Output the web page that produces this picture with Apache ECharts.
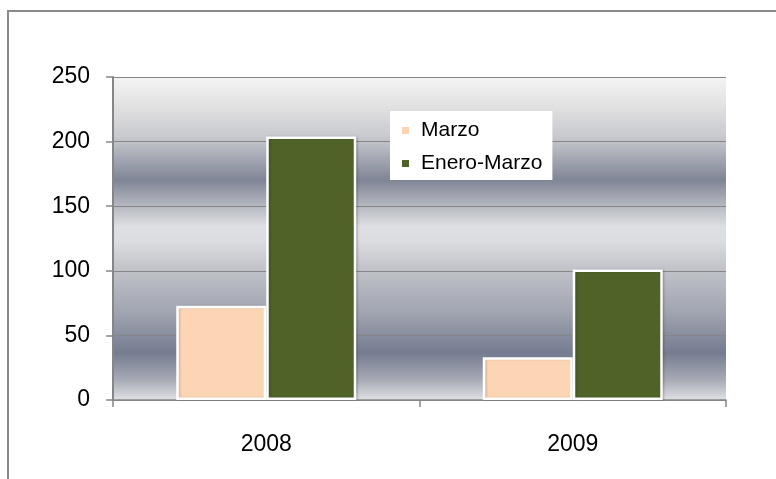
<!DOCTYPE html>
<html>
<head>
<meta charset="utf-8">
<script src="https://cdn.jsdelivr.net/npm/echarts@6/dist/echarts.min.js"></script>
<style>
html,body{margin:0;padding:0;background:#fff;}
#chart{width:776px;height:479px;}
</style>
</head>
<body>
<div id="chart"></div>
<script>
var categories = ['2008', '2009'];
var marzo = [73, 33];
var eneroMarzo = [204, 101];
var seriesNames = ['Marzo', 'Enero-Marzo'];
var yTicks = { min: 0, max: 250, interval: 50 };

var chart = echarts.init(document.getElementById('chart'));
var fontFam = '"Liberation Sans", Arial, sans-serif';
var bgGrad = new echarts.graphic.LinearGradient(0, 0, 0, 1, [
  { offset: 0, color: '#f4f4f4' },
  { offset: 0.087, color: '#e2e2e3' },
  { offset: 0.186, color: '#c8c9ce' },
  { offset: 0.272, color: '#9a9eab' },
  { offset: 0.319, color: '#7f8596' },
  { offset: 0.39, color: '#b0b3bc' },
  { offset: 0.464, color: '#dedfe2' },
  { offset: 0.505, color: '#dcdde0' },
  { offset: 0.598, color: '#c0c2c8' },
  { offset: 0.731, color: '#a0a4b0' },
  { offset: 0.854, color: '#757c90' },
  { offset: 0.938, color: '#a8abb6' },
  { offset: 1, color: '#e0e1e4' }
]);

chart.setOption({
  animation: false,
  textStyle: { fontFamily: fontFam },
  graphic: [{
    type: 'rect',
    shape: { x: 8, y: 11, width: 900, height: 600 },
    style: { fill: 'none', stroke: '#8a8a8a', lineWidth: 2 },
    z: 0
  }],
  grid: {
    left: 113, top: 77, right: 50, bottom: 79,
    show: true, backgroundColor: bgGrad, borderWidth: 0
  },
  legend: {
    data: seriesNames,
    orient: 'vertical',
    left: 390, top: 111,
    backgroundColor: '#ffffff',
    padding: [9, 10, 6, 10],
    itemWidth: 9, itemHeight: 9,
    itemGap: 12,
    icon: 'rect',
    textStyle: { fontSize: 21, color: '#000', fontFamily: fontFam, padding: [0, 0, 0, 6] }
  },
  xAxis: {
    type: 'category',
    data: categories,
    axisLine: { show: true, lineStyle: { color: '#868686', width: 1.5 } },
    axisTick: { show: true, length: 7, alignWithLabel: false, lineStyle: { color: '#868686', width: 1.5 } },
    axisLabel: { fontSize: 23, color: '#000', margin: 33, fontFamily: fontFam },
    splitLine: { show: false }
  },
  yAxis: {
    type: 'value',
    min: yTicks.min, max: yTicks.max, interval: yTicks.interval,
    axisLine: { show: true, lineStyle: { color: '#868686', width: 2 } },
    axisTick: { show: true, length: 7, lineStyle: { color: '#868686', width: 1.5 } },
    axisLabel: { fontSize: 23, color: '#000', margin: 23, fontFamily: fontFam },
    splitLine: { show: true, lineStyle: { color: '#868686', width: 1.2 } }
  },
  series: [{
    name: seriesNames[0],
    type: 'bar',
    data: marzo,
    barWidth: 90,
    barGap: '0%',
    itemStyle: {
      color: '#fcd5b5', borderColor: '#ffffff', borderWidth: 2.5,
      shadowColor: 'rgba(0,0,0,0.15)', shadowBlur: 2, shadowOffsetX: 1.5, shadowOffsetY: 0
    }
  }, {
    name: seriesNames[1],
    type: 'bar',
    data: eneroMarzo,
    barWidth: 90,
    itemStyle: {
      color: '#4f6228', borderColor: '#ffffff', borderWidth: 2.5,
      shadowColor: 'rgba(0,0,0,0.15)', shadowBlur: 2, shadowOffsetX: 1.5, shadowOffsetY: 0
    }
  }]
});
</script>
</body>
</html>
